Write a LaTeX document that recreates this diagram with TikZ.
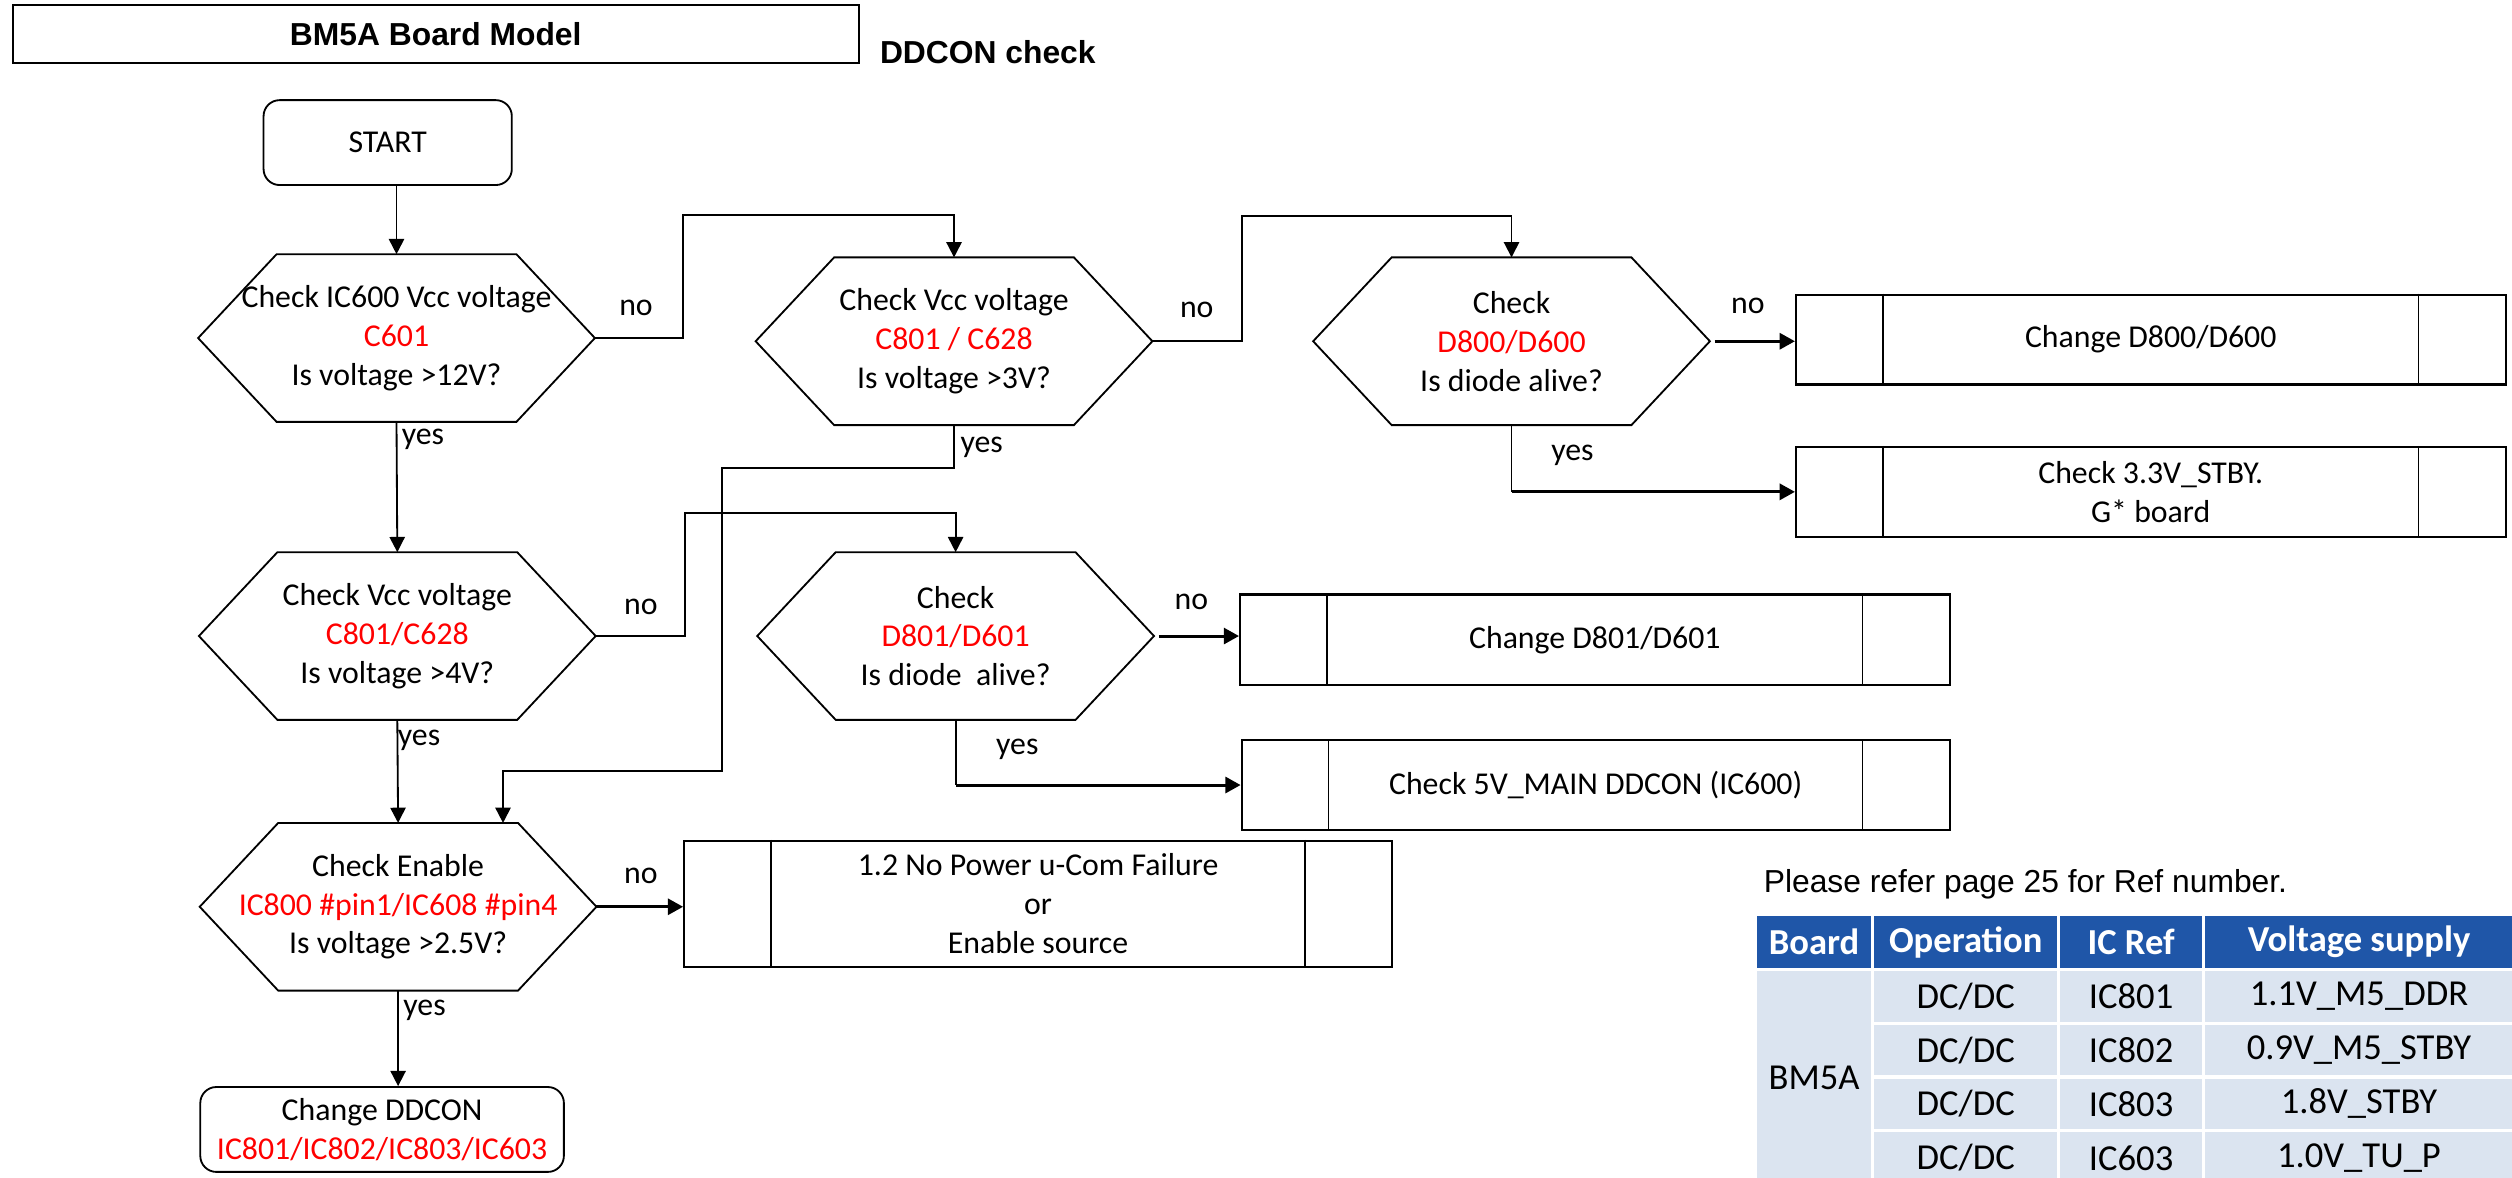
\documentclass[tikz,border=0pt]{standalone}
\usepackage{fontspec}
\setmainfont{Carlito}
\newfontfamily\arialfont{Liberation Sans}
\usetikzlibrary{arrows.meta}
\definecolor{hdrblue}{HTML}{1F56A8}
\definecolor{cellblue}{HTML}{DBE4F0}
\definecolor{refred}{HTML}{FF0000}
% hexagonal decision outline around a (undrawn) rectangular node
\newcommand{\hexframe}[1]{%
  \draw[hexline] (#1.west) -- ([xshift=0.98cm]#1.north west) -- ([xshift=-0.98cm]#1.north east)
    -- (#1.east) -- ([xshift=-0.98cm]#1.south east) -- ([xshift=0.98cm]#1.south west) -- cycle;}
% side bars of a predefined-process box
\newcommand{\procbars}[1]{%
  \draw[barline] ([xshift=1.1cm]#1.north west) -- ([xshift=1.1cm]#1.south west);
  \draw[barline] ([xshift=-1.1cm]#1.north east) -- ([xshift=-1.1cm]#1.south east);}
\begin{document}
\begin{tikzpicture}[x=0.02cm,y=-0.02cm,
  flow/.style={font=\fontsize{11.3}{13.8}\selectfont},
  hexnode/.style={flow, minimum width=4.94cm, minimum height=2.08cm, inner sep=0pt, align=center},
  hexline/.style={line width=0.65pt},
  procbox/.style={flow, draw, line width=0.75pt, minimum width=8.86cm, minimum height=1.12cm, inner sep=0pt, align=center},
  barline/.style={line width=0.55pt},
  termbox/.style={flow, draw, line width=0.65pt, rounded corners=0.2cm, inner sep=0pt, align=center},
  link/.style={line width=0.65pt},
  arr/.style={link, -{Triangle[length=1.9mm,width=1.9mm]}},
  thickline/.style={line width=1.05pt},
  thickarr/.style={thickline, -{Triangle[length=1.9mm,width=2mm]}},
  lbl/.style={flow, inner sep=0pt},
  headfont/.style={font=\arialfont\bfseries\fontsize{11.3}{13.6}\selectfont},
  cell/.style={inner sep=0pt, fill=cellblue, font=\fontsize{13}{15.6}\selectfont},
  hcell/.style={inner sep=0pt, fill=hdrblue, text=white, minimum height=0.64cm, font=\bfseries\fontsize{13}{15.6}\selectfont},
]
\useasboundingbox (0,0) rectangle (1568,735);
\clip (0,0) rectangle (1568,735);

% page heading
\node[headfont, draw, line width=0.7pt, minimum width=10.56cm, minimum height=0.73cm, inner sep=0pt] (title) at (272,21.25) {BM5A Board Model};
\node[headfont, inner sep=0pt] (ddcon) at (616.6,32.5) {DDCON check};

% flowchart nodes
\node[termbox, minimum width=3.1cm, minimum height=1.06cm] (start) at (242,89) {START};

\node[hexnode] (q1) at (247.5,211) {Check IC600 Vcc voltage\\\textcolor{refred}{C601}\\Is voltage >12V?};
\hexframe{q1}
\node[hexnode] (q2) at (595.5,213) {Check Vcc voltage\\\textcolor{refred}{C801 / C628}\\Is voltage >3V?};
\hexframe{q2}
\node[hexnode] (q3) at (943.5,213) {Check\\\textcolor{refred}{D800/D600}\\Is diode alive?};
\hexframe{q3}
\node[hexnode] (q4) at (248,397) {Check Vcc voltage\\\textcolor{refred}{C801/C628}\\Is voltage >4V?};
\hexframe{q4}
\node[hexnode] (q6) at (596.5,397) {Check\\\textcolor{refred}{D801/D601}\\Is diode~ alive?};
\hexframe{q6}
\node[hexnode] (q5) at (248.5,566) {Check Enable\\\textcolor{refred}{IC800 \#pin1/IC608 \#pin4}\\Is voltage >2.5V?};
\hexframe{q5}

\node[procbox] (b1) at (1342.5,212) {Change D800/D600};
\procbars{b1}
\node[procbox] (b2) at (1342.5,307) {Check 3.3V\_STBY.\\G* board};
\procbars{b2}
\node[procbox, minimum height=1.13cm] (b3) at (995.5,399.3) {Change D801/D601};
\procbars{b3}
\node[procbox, minimum width=8.84cm] (b4) at (996,490) {Check 5V\_MAIN DDCON (IC600)};
\procbars{b4}
\node[procbox, minimum width=8.84cm, minimum height=1.57cm] (b5) at (648,564.2) {1.2 No Power u-Com Failure\\or\\Enable source};
\procbars{b5}

\node[termbox, minimum width=4.54cm, minimum height=1.06cm] (done) at (238.5,705) {Change DDCON\\\textcolor{refred}{IC801/IC802/IC803/IC603}};

% connectors
\draw[arr] (start.south -| q1.north) -- (q1.north);
\draw[arr] (q1.east) -| ++(55,-77) -| (q2.north);
\draw[arr] (q2.east) -| ++(56,-78) -| (q3.north);
\draw[thickarr] ([xshift=0.06cm]q3.east) -- (q3.east -| b1.west);
\draw[link] (q3.south) -- (q3.south |- b2.west);
\draw[thickarr] (q3.south |- b2.west) -- (b2.west);
\draw[arr] (q1.south) -- (q4.north);
\draw[arr] (q2.south) -- ++(0,27) -| ++(-145,189) -| ([xshift=1.31cm]q5.north);
\draw[arr] (q4.east) -| ++(56,-77) -| (q6.north);
\draw[thickarr] ([xshift=0.06cm]q6.east) -- (q6.east -| b3.west);
\draw[link] (q6.south) -- (q6.south |- b4.west);
\draw[thickarr] (q6.south |- b4.west) -- (b4.west);
\draw[arr] (q4.south) -- (q5.north);
\draw[thickarr] (q5.east) -- (q5.east -| b5.west);
\draw[arr] (q5.south) -- (q5.south |- done.north);

% branch labels
\node[lbl] (n1) at (397,192) {no};
\node[lbl] (n2) at (747,193.5) {no};
\node[lbl] (n3) at (1091,191) {no};
\node[lbl] (n4) at (400,378.7) {no};
\node[lbl] (n6) at (743.6,375.6) {no};
\node[lbl] (n5) at (400,547) {no};
\node[lbl] (y1) at (264,274) {yes};
\node[lbl] (y2) at (612.8,279) {yes};
\node[lbl] (y3) at (981.5,284) {yes};
\node[lbl] (y4) at (261.6,462) {yes};
\node[lbl] (y6) at (635,467.6) {yes};
\node[lbl] (y5) at (265,630.5) {yes};

% reference table
\node[anchor=west, inner sep=0pt, font=\arialfont\fontsize{11.3}{13.6}\selectfont] (note) at (1100.6,552) {Please refer page 25 for Ref number.};

\node[hcell, minimum width=1.426cm] (hb) at (1132.35,588) {Board};
\node[hcell, minimum width=2.28cm] (ho) at (1227,588) {Operation};
\node[hcell, minimum width=1.77cm] (hi) at (1330.25,588) {IC Ref};
\node[hcell, minimum width=3.84cm] (hv) at (1472.5,588) {Voltage supply};

\node[cell, minimum width=1.426cm, minimum height=2.654cm] (bd) at (1132.35,672.6) {BM5A};

\node[cell, minimum width=2.28cm, minimum height=0.63cm] (o1) at (1227,622) {DC/DC};
\node[cell, minimum width=1.77cm, minimum height=0.63cm] (i1) at (1330.25,622) {IC801};
\node[cell, minimum width=3.84cm, minimum height=0.63cm] (v1) at (1472.5,622) {1.1V\_M5\_DDR};

\node[cell, minimum width=2.28cm, minimum height=0.63cm] (o2) at (1227,655.5) {DC/DC};
\node[cell, minimum width=1.77cm, minimum height=0.63cm] (i2) at (1330.25,655.5) {IC802};
\node[cell, minimum width=3.84cm, minimum height=0.63cm] (v2) at (1472.5,655.5) {0.9V\_M5\_STBY};

\node[cell, minimum width=2.28cm, minimum height=0.63cm] (o3) at (1227,689) {DC/DC};
\node[cell, minimum width=1.77cm, minimum height=0.63cm] (i3) at (1330.25,689) {IC803};
\node[cell, minimum width=3.84cm, minimum height=0.63cm] (v3) at (1472.5,689) {1.8V\_STBY};

\node[cell, minimum width=2.28cm, minimum height=0.66cm] (o4) at (1227,722.8) {DC/DC};
\node[cell, minimum width=1.77cm, minimum height=0.66cm] (i4) at (1330.25,722.8) {IC603};
\node[cell, minimum width=3.84cm, minimum height=0.66cm] (v4) at (1472.5,722.8) {1.0V\_TU\_P};
\end{tikzpicture}
\end{document}
